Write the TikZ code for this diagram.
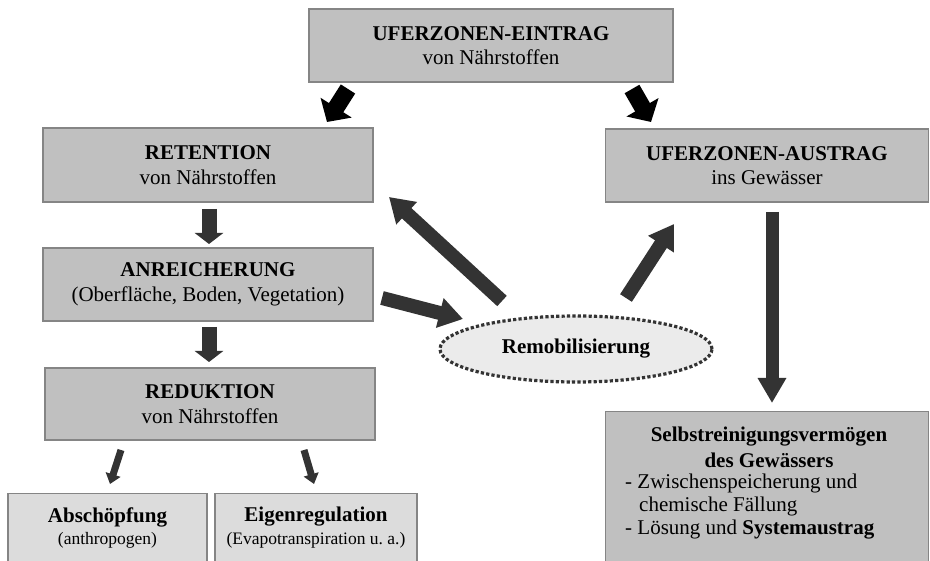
\documentclass[tikz,border=0pt]{standalone}
\usepackage{fontspec}
\setmainfont{Liberation Serif}
\usetikzlibrary{arrows.meta,shapes.geometric}
\definecolor{boxgray}{HTML}{C0C0C0}
\definecolor{boxline}{HTML}{858585}
\definecolor{lightbox}{HTML}{DCDCDC}
\definecolor{ellfill}{HTML}{EBEBEB}
\definecolor{arrowdark}{HTML}{333333}
\begin{document}
\begin{tikzpicture}[x=1pt,y=-1pt,
  box/.style={draw=boxline, line width=1.5pt, fill=boxgray, rectangle, inner sep=0pt,
    align=center, font=\fontsize{21}{24.5}\selectfont},
  lightbox/.style={box, fill=lightbox},
  boxtext/.style={inner sep=0pt, font=\fontsize{21}{24.5}\selectfont},
  bigarrow/.style={draw=arrowdark, line width=14pt, -{Triangle[length=24pt,width=29pt]}},
  midarrow/.style={draw=arrowdark, line width=15pt, -{Triangle[length=11pt,width=28pt]}},
  smallarrow/.style={draw=arrowdark, line width=7pt, -{Triangle[length=10pt,width=15pt]}},
  blackarrow/.style={draw=black, line width=17pt, -{Triangle[length=17pt,width=36pt]}},
]
\clip (0,0) rectangle (930,561);
\fill[white] (0,0) rectangle (930,561);

% main boxes
\node[box, minimum width=364pt, minimum height=73pt] (eintrag) at (491,45.5)
  {\textbf{UFERZONEN-EINTRAG}\\von Nährstoffen};
\node[box, minimum width=330pt, minimum height=74pt] (retention) at (208,165)
  {\textbf{RETENTION}\\von Nährstoffen};
\node[box, minimum width=330pt, minimum height=73pt] (anreicherung) at (208,284.5)
  {\textbf{ANREICHERUNG}\\(Oberfläche, Boden, Vegetation)};
\node[box, minimum width=330pt, minimum height=72pt] (reduktion) at (210,404)
  {\textbf{REDUKTION}\\von Nährstoffen};
\node[box, minimum width=323pt, minimum height=73pt] (austrag) at (767,165.5)
  {\textbf{UFERZONEN-AUSTRAG}\\ins Gewässer};

% lower boxes, running off the bottom edge
\node[lightbox, minimum width=199pt, minimum height=90pt, anchor=north] (abschoepfung) at (107.5,493) {};
\node[boxtext, font=\bfseries\fontsize{21}{24}\selectfont] (absch1) at (107.5,517) {Abschöpfung};
\node[boxtext, font=\fontsize{17.5}{20}\selectfont] (absch2) at (107.5,540) {(anthropogen)};
\node[lightbox, minimum width=202pt, minimum height=90pt, anchor=north] (eigen) at (316,493) {};
\node[boxtext, font=\bfseries\fontsize{21}{24}\selectfont] (eigen1) at (316,517) {Eigenregulation};
\node[boxtext, font=\fontsize{17.5}{20}\selectfont] (eigen2) at (316,540) {(Evapotranspiration u.\ a.)};

\node[box, minimum width=323pt, minimum height=170pt, anchor=north] (selbst) at (767,411) {};
\node[boxtext, font=\bfseries\fontsize{21}{24}\selectfont] (selbst1) at (769,437) {Selbstreinigungsvermögen};
\node[boxtext, font=\bfseries\fontsize{21}{24}\selectfont] (selbst2) at (769,460) {des Gewässers};
\node[boxtext, anchor=west] (selbst3) at (625,483) {- Zwischenspeicherung und};
\node[boxtext, anchor=west] (selbst4) at (639,506) {chemische Fällung};
\node[boxtext, anchor=west] (selbst5) at (625,530) {- Lösung und \textbf{Systemaustrag}};

% remobilisation ellipse
\node[ellipse, fill=ellfill, draw=arrowdark, line width=3.2pt,
  dash pattern=on 3.2pt off 2.2pt, minimum width=272pt, minimum height=66pt,
  inner sep=0pt, font=\bfseries\fontsize{21}{24}\selectfont] (remob) at (576,349) {Remobilisierung};

% arrow end points
\coordinate (e1a) at (348,89);  \coordinate (e1b) at (327,122);
\coordinate (e2a) at (632,89);  \coordinate (e2b) at (651,122);
\coordinate (r1a) at (209,209); \coordinate (r1b) at (209,244);
\coordinate (r2a) at (209,327); \coordinate (r2b) at (209,362);
\coordinate (d1a) at (121,450); \coordinate (d1b) at (110,484);
\coordinate (d2a) at (304,450); \coordinate (d2b) at (314,484);
\coordinate (m1a) at (382,298); \coordinate (m1b) at (463,319);
\coordinate (m2a) at (502,301); \coordinate (m2b) at (389,197);
\coordinate (m3a) at (626,298); \coordinate (m3b) at (674,224);
\coordinate (s1a) at (772,212); \coordinate (s1b) at (772,403);

% connectors
\draw[blackarrow] (e1a) -- (e1b);
\draw[blackarrow] (e2a) -- (e2b);
\draw[midarrow] (r1a) -- (r1b);
\draw[midarrow] (r2a) -- (r2b);
\draw[smallarrow] (d1a) -- (d1b);
\draw[smallarrow] (d2a) -- (d2b);
\draw[bigarrow] (m1a) -- (m1b);
\draw[bigarrow] (m2a) -- (m2b);
\draw[bigarrow] (m3a) -- (m3b);
\draw[bigarrow, line width=13pt, -{Triangle[length=25pt,width=27pt]}] (s1a) -- (s1b);
\end{tikzpicture}
\end{document}
